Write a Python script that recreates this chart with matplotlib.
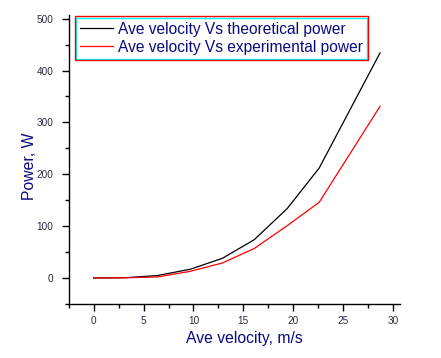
import matplotlib
matplotlib.use("Agg")
import matplotlib.pyplot as plt
from matplotlib.patches import Rectangle
from matplotlib.ticker import MultipleLocator

velocity = [0, 3.2, 6.4, 9.7, 12.9, 16.1, 19.4, 22.6, 28.7]
theoretical_power = [0, 0.6, 4.8, 17, 38, 74, 134, 212, 434]
experimental_power = [0, 0.5, 2, 13, 29, 57, 101, 146, 331]
label_theo = "Ave velocity Vs theoretical power"
label_exp = "Ave velocity Vs experimental power"

plt.rcParams['font.family'] = ['Liberation Sans', 'DejaVu Sans']
navy = '#0a0a80'

fig = plt.figure(figsize=(4.41, 3.58), dpi=100)
ax = fig.add_axes([0.156, 0.151, 0.751, 0.807])
ax.plot(velocity, theoretical_power, color='black', lw=0.9, label=label_theo)
ax.plot(velocity, experimental_power, color='red', lw=0.9, label=label_exp)

ax.set_xlim(-2.5, 30.7)
ax.set_ylim(-50, 507)
ax.xaxis.set_major_locator(MultipleLocator(5))
ax.xaxis.set_minor_locator(MultipleLocator(2.5))
ax.yaxis.set_major_locator(MultipleLocator(100))
ax.yaxis.set_minor_locator(MultipleLocator(50))
for s in ('top', 'right'):
    ax.spines[s].set_visible(False)
for s in ('left', 'bottom'):
    ax.spines[s].set_linewidth(1.0)
ax.tick_params(which='major', length=5, width=1, direction='out', labelsize=7.2, labelcolor='#2a2a40')
ax.tick_params(axis='x', which='major', pad=3.5)
ax.tick_params(axis='y', which='major', pad=6)
ax.tick_params(which='minor', length=3, width=1, direction='out')

ax.set_xlabel("Ave velocity, m/s", fontsize=11.3, color=navy)
ax.set_ylabel("Power, W", fontsize=11.3, color=navy)
ax.xaxis.set_label_coords(0.53, -0.095)
ax.yaxis.set_label_coords(-0.097, 0.477)

leg = ax.legend(loc='upper left', bbox_to_anchor=(0.023, 0.99), fontsize=11.2,
                frameon=True, fancybox=False, edgecolor='cyan', framealpha=1,
                handlelength=2.1, borderpad=0.25, labelspacing=0.2, handletextpad=0.32,
                borderaxespad=0)
for t in leg.get_texts():
    t.set_color(navy)
leg.get_frame().set_linewidth(1.0)

fig.canvas.draw()
bb = leg.get_window_extent().transformed(fig.transFigure.inverted())
pw = 1.5 / fig.bbox.width
ph = 1.5 / fig.bbox.height
fig.patches.append(Rectangle((bb.x0 - pw, bb.y0 - ph), bb.width + 2 * pw, bb.height + 2 * ph,
                             transform=fig.transFigure, fill=False, edgecolor='red', lw=1.0, zorder=10))

fig.savefig("out.png", dpi=100)
